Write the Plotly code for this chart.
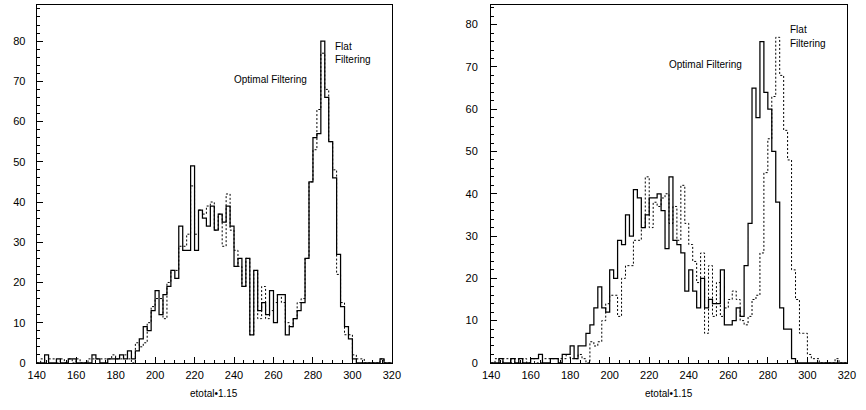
import numpy as np
import plotly.graph_objects as go

# ---- data (bins of width 2 from 140 to 320) ----
bin_start = 140
bin_width = 2
n_bins = 90

# Flat Filtering (dashed) - same in both panels
flat = [0, 1, 0, 1, 1, 0, 1, 0, 1, 0,      # 140-158
        1, 0, 0, 1, 1, 1, 1, 1, 1, 2,      # 160-178
        1, 1, 2, 1, 0, 5, 4, 5, 10, 14,    # 180-198
        16, 16, 11, 20, 23, 23, 29, 29, 32, 44,   # 200-218
        32, 38, 37, 39, 40, 33, 37, 29, 42, 33,   # 220-238
        28, 24, 19, 26, 7, 23, 11, 19, 11, 13,    # 240-258
        15, 17, 15, 10, 9, 11, 15, 16, 26, 45,    # 260-278
        53, 63, 77, 68, 55, 48, 22, 15, 7, 7,     # 280-298
        2, 1, 1, 0, 0, 0, 0, 1, 0, 0]             # 300-318

# Optimal Filtering (solid), left panel
optimal_left = [0, 0, 2, 0, 0, 1, 0, 0, 1, 1,
                0, 0, 0, 0, 2, 1, 0, 0, 1, 1,
                1, 2, 1, 3, 1, 3, 6, 9, 8, 13,
                18, 12, 17, 19, 23, 21, 34, 28, 28, 49,
                28, 38, 36, 34, 39, 33, 37, 35, 39, 34,
                24, 26, 19, 26, 7, 23, 13, 15, 12, 18,
                10, 17, 17, 7, 9, 11, 13, 15, 26, 45,
                56, 57, 80, 66, 55, 46, 27, 14, 9, 6,
                1, 0, 0, 0, 0, 0, 0, 1, 0, 0]

# Optimal Filtering (solid), right panel
optimal_right = [0, 0, 1, 0, 0, 1, 0, 1, 0, 0,
                 1, 1, 2, 0, 0, 1, 1, 0, 2, 2,
                 4, 1, 4, 4, 7, 9, 13, 18, 13, 12,
                 22, 20, 29, 28, 35, 30, 41, 39, 32, 35,
                 39, 39, 40, 36, 27, 44, 29, 28, 26, 17,
                 22, 17, 13, 20, 13, 15, 14, 14, 22, 9,
                 9, 10, 13, 11, 23, 33, 65, 58, 76, 64,
                 60, 50, 38, 13, 8, 8, 1, 0, 0, 0,
                 0, 0, 0, 0, 0, 0, 0, 0, 0, 0]

x_ticks = [140, 160, 180, 200, 220, 240, 260, 280, 300, 320]
x_title = "etotal\u20221.15"
label_optimal = "Optimal Filtering"
label_flat = ["Flat", "Filtering"]

edges = bin_start + bin_width * np.arange(n_bins + 1)


def step_y(counts):
    return list(counts) + [counts[-1]]


FONT = "Liberation Sans, Arial, Helvetica, sans-serif"

fig = go.Figure()

for xa, ya, opt in (("x", "y", optimal_left), ("x2", "y2", optimal_right)):
    fig.add_trace(go.Scatter(
        x=edges, y=step_y(flat), mode="lines", line_shape="hv",
        line=dict(color="black", width=1.0, dash="2px,2px"),
        name="Flat Filtering", xaxis=xa, yaxis=ya, hoverinfo="skip"))
    fig.add_trace(go.Scatter(
        x=edges, y=step_y(opt), mode="lines", line_shape="hv",
        line=dict(color="black", width=1.25),
        name="Optimal Filtering", xaxis=xa, yaxis=ya, hoverinfo="skip"))

common = dict(
    showline=True, linecolor="black", linewidth=1, mirror=True,
    ticks="inside", ticklen=6, tickwidth=1, tickcolor="black",
    showgrid=False, zeroline=False,
    tickfont=dict(family=FONT, size=11, color="black"),
)

xdomL = [28.3 / 866, 391.0 / 866]
xdomR = [492.3 / 866, 855.7 / 866]
ydom = [(410 - 368.3) / 410, (410 - 5.0) / 410]

fig.update_layout(
    width=866, height=410,
    margin=dict(l=0, r=0, t=0, b=0),
    paper_bgcolor="white", plot_bgcolor="white",
    showlegend=False,
    xaxis=dict(domain=xdomL, range=[140, 320], tickvals=x_ticks,
               minor=dict(ticks="inside", ticklen=3, dtick=5, tick0=140, tickcolor="black"),
               anchor="y", ticklabelstandoff=2, **common),
    yaxis=dict(domain=ydom, range=[0, 89], dtick=10, tick0=0,
               minor=dict(ticks="inside", ticklen=3, dtick=2, tick0=0, tickcolor="black"),
               anchor="x", ticklabelstandoff=8, **common),
    xaxis2=dict(domain=xdomR, range=[140, 320], tickvals=x_ticks,
                minor=dict(ticks="inside", ticklen=3, dtick=5, tick0=140, tickcolor="black"),
                anchor="y2", ticklabelstandoff=2, **common),
    yaxis2=dict(domain=ydom, range=[0, 84.66], dtick=10, tick0=0,
                minor=dict(ticks="inside", ticklen=3, dtick=2, tick0=0, tickcolor="black"),
                anchor="x2", ticklabelstandoff=10, **common),
)

ann_font = dict(family=FONT, size=10, color="black")
for xr, yr, opt_xy, flat_x, flat_y in (
        ("x", "y", (258.6, 70.5), 290.1, (78.6, 75.4)),
        ("x2", "y2", (248.6, 70.6), 290.1, (78.8, 75.6))):
    fig.add_annotation(text=label_optimal, x=opt_xy[0], y=opt_xy[1], xref=xr, yref=yr,
                       showarrow=False, xanchor="center", yanchor="middle", font=ann_font)
    for txt, yy in zip(label_flat, flat_y):
        fig.add_annotation(text=txt, x=flat_x, y=yy, xref=xr, yref=yr,
                           showarrow=False, xanchor="left", yanchor="middle", font=ann_font)
    fig.add_annotation(text=x_title, x=0.5, y=11 / 410, xref=xr + " domain", yref="paper",
                       showarrow=False, xanchor="center", yanchor="middle", font=ann_font)

fig.write_html("out.html")
